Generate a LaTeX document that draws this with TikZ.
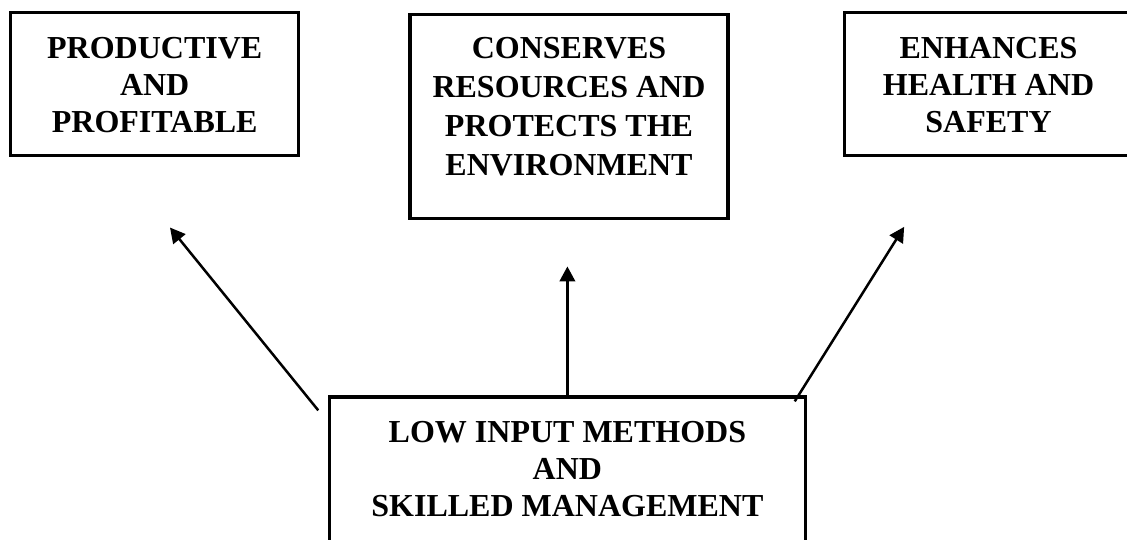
\documentclass[tikz,border=0pt]{standalone}
\usepackage{fontspec}
\setmainfont{Liberation Serif}
\usetikzlibrary{arrows.meta,positioning}

\begin{document}
\begin{tikzpicture}[
x=1pt, y=1pt,
goalbox/.style={
% The shape:
rectangle,
% The border:
line width=3.3pt,
draw=black,
% The size is given per box, words go in their own node
inner sep=0pt
},
goaltext/.style={
% Font
font=\bfseries\fontsize{32}{37}\selectfont,
align=center,
inner sep=0pt
},
link/.style={
% a plain black arrow with a filled head
line width=2.5pt,
-{Triangle[length=15pt,width=15.5pt]}
}]
\useasboundingbox (0,0) rectangle (1127,-540);

% the three results on top
\node [goalbox, minimum width=288pt, minimum height=143pt] (prod) at (154.7,-84.1) {};
\node [goalbox, minimum width=318pt, minimum height=204pt] (cons) at (569,-116.8) {};
\node [goalbox, minimum width=288pt, minimum height=143pt] (enh) at (988.5,-84) {};
% the source box below, cut by the page edge
\node [goalbox, minimum width=476pt, minimum height=326pt] (low) at (567.4,-560) {};

\node [goaltext, below=26pt of prod.north] (prod text) {PRODUCTIVE\\AND\\PROFITABLE};
\node [goaltext, font=\bfseries\fontsize{32}{39}\selectfont, below=23.5pt of cons.north] (cons text) {CONSERVES\\RESOURCES AND\\PROTECTS THE\\ENVIRONMENT};
\node [goaltext, below=26pt of enh.north] (enh text) {ENHANCES\\HEALTH AND\\SAFETY};
\node [goaltext, below=25.5pt of low.north] (low text) {LOW INPUT METHODS\\AND\\SKILLED MANAGEMENT};

\draw [link] ([shift={(-9.5,-15)}]low.north west) -- ([shift={(15.3,-70.3)}]prod.south);
\draw [link] (low.north) -- ([yshift=-46pt]cons.south -| low.north);
\draw [link] ([shift={(-12.3,-6)}]low.north east) -- ([shift={(61.3,-69.7)}]enh.south west);
\end{tikzpicture}
\end{document}
